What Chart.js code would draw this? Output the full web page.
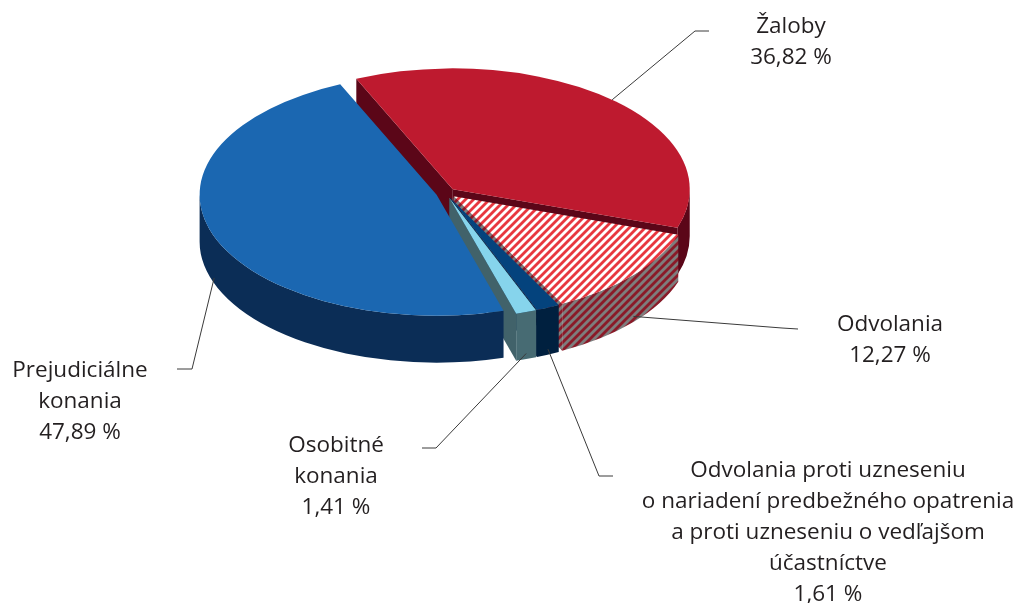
<html>
<head>
    <script src="https://cdn.jsdelivr.net/npm/chart.js"></script>
    <style>
        body { margin: 0; background: #ffffff; }
    </style>
</head>
<body>
    <div style="width: 1016px; height: 603px">
        <canvas id="myChart" width="1016" height="603"></canvas>
    </div>

    <script>
        // data (clockwise from the top-left)
        const categories = [
            'Žaloby',
            'Odvolania',
            'Odvolania proti uzneseniu o nariadení predbežného opatrenia a proti uzneseniu o vedľajšom účastníctve',
            'Osobitné konania',
            'Prejudiciálne konania'
        ];
        const shares = [36.82, 12.27, 1.61, 1.41, 47.89];
        const labelLines = [
            ['Žaloby'],
            ['Odvolania'],
            ['Odvolania proti uzneseniu', 'o nariadení predbežného opatrenia', 'a proti uzneseniu o vedľajšom', 'účastníctve'],
            ['Osobitné', 'konania'],
            ['Prejudiciálne', 'konania']
        ];

        // look of the 3d pie
        const topColors = ['#be1a2f', 'hatch', '#04437d', '#86d4ec', '#1b67b1'];
        const wallColors = ['#5b0618', 'hatchDark', '#00203f', '#476b73', '#0b2d56'];
        const faceColors = ['#5b0618', 'hatchDark', '#00203f', '#41626a', '#0b2d56'];
        const tilt = 0.51, depth = 47, explode = 10;

        // label placement: text centre x, first baseline, leader elbow and end
        const labelPos = [
            { x: 791, y: 33, elbow: [695, 31], end: [709, 31] },
            { x: 890, y: 331, elbow: [782, 328], end: [798, 329] },
            { x: 828, y: 477, elbow: [599, 476], end: [613, 476] },
            { x: 336, y: 452, elbow: [436, 448], end: [422, 448] },
            { x: 80, y: 377, elbow: [192, 369], end: [177, 369] }
        ];

        function hexRgb(h) {
            return [parseInt(h.substr(1, 2), 16), parseInt(h.substr(3, 2), 16), parseInt(h.substr(5, 2), 16)];
        }

        function stripes(ctx, c1, c2) {
            const size = 8;
            const t = document.createElement('canvas');
            t.width = size; t.height = size;
            const g = t.getContext('2d');
            const img = g.createImageData(size, size);
            const a = hexRgb(c1), b = hexRgb(c2);
            for (let y = 0; y < size; y++) {
                for (let x = 0; x < size; x++) {
                    const v = Math.cos(2 * Math.PI * (x + y) / size);
                    const m = Math.min(1, Math.max(0, 0.5 + 0.9 * v));
                    const i = (y * size + x) * 4;
                    for (let k = 0; k < 3; k++) img.data[i + k] = Math.round(a[k] * m + b[k] * (1 - m));
                    img.data[i + 3] = 255;
                }
            }
            g.putImageData(img, 0, 0);
            return ctx.createPattern(t, 'repeat');
        }

        function geo(arc) {
            const mid = (arc.startAngle + arc.endAngle) / 2;
            return {
                x: arc.x + Math.cos(mid) * explode,
                y: arc.y + Math.sin(mid) * explode * tilt,
                r: arc.outerRadius,
                a0: arc.startAngle,
                a1: arc.endAngle,
                mid: mid
            };
        }

        function rim(g, a, dy) {
            return [g.x + g.r * Math.cos(a), g.y + g.r * tilt * Math.sin(a) + dy];
        }

        function topPath(ctx, g) {
            ctx.beginPath();
            ctx.moveTo(g.x, g.y);
            ctx.ellipse(g.x, g.y, g.r, g.r * tilt, 0, g.a0, g.a1);
            ctx.closePath();
        }

        function facePath(ctx, g, a) {
            const p = rim(g, a, 0);
            ctx.beginPath();
            ctx.moveTo(g.x, g.y);
            ctx.lineTo(p[0], p[1]);
            ctx.lineTo(p[0], p[1] + depth);
            ctx.lineTo(g.x, g.y + depth);
            ctx.closePath();
        }

        function wallPath(ctx, g, s, e) {
            ctx.beginPath();
            ctx.ellipse(g.x, g.y, g.r, g.r * tilt, 0, s, e);
            ctx.ellipse(g.x, g.y + depth, g.r, g.r * tilt, 0, e, s, true);
            ctx.closePath();
        }

        const pie3d = {
            id: 'pie3d',
            beforeDatasetsDraw(chart) {
                const ctx = chart.ctx;
                const fills = {
                    hatch: stripes(ctx, '#e8373f', '#ffffff'),
                    hatchDark: stripes(ctx, '#8a1a28', '#7d7d7d')
                };
                const pick = c => fills[c] || c;
                const gs = chart.getDatasetMeta(0).data.map(geo);
                ctx.save();
                // radial cut faces that look toward the viewer
                gs.forEach((g, i) => {
                    ctx.fillStyle = pick(faceColors[i]);
                    if (-Math.cos(g.a0) > 0) { facePath(ctx, g, g.a0); ctx.fill(); }
                    if (Math.cos(g.a1) > 0) { facePath(ctx, g, g.a1); ctx.fill(); }
                });
                // outer walls on the front half
                gs.forEach((g, i) => {
                    ctx.fillStyle = pick(wallColors[i]);
                    [-2, 0, 2].forEach(n => {
                        const s = Math.max(g.a0, n * Math.PI);
                        const e = Math.min(g.a1, (n + 1) * Math.PI);
                        if (e > s) { wallPath(ctx, g, s, e); ctx.fill(); }
                    });
                });
                // top faces
                gs.forEach((g, i) => {
                    ctx.fillStyle = pick(topColors[i]);
                    topPath(ctx, g);
                    ctx.fill();
                });
                ctx.restore();
                return false;
            },
            afterDraw(chart) {
                const ctx = chart.ctx;
                const arcs = chart.getDatasetMeta(0).data;
                ctx.save();
                ctx.strokeStyle = '#3a3a3a';
                ctx.lineWidth = 1;
                ctx.fillStyle = '#231f20';
                ctx.font = '22.5px "Open Sans"';
                ctx.textAlign = 'center';
                ctx.textBaseline = 'alphabetic';
                arcs.forEach((arc, i) => {
                    const g = geo(arc);
                    const a = rim(g, g.mid, Math.sin(g.mid) > 0 ? depth * 0.88 : 0);
                    const p = labelPos[i];
                    ctx.beginPath();
                    ctx.moveTo(a[0], a[1]);
                    ctx.lineTo(p.elbow[0], p.elbow[1]);
                    ctx.lineTo(p.end[0], p.end[1]);
                    ctx.stroke();

                    const lines = labelLines[i].concat([shares[i].toFixed(2).replace('.', ',') + ' %']);
                    lines.forEach((t, k) => ctx.fillText(t, p.x, p.y + k * 31));
                });
                ctx.restore();
            }
        };

        const ctx = document.getElementById('myChart').getContext('2d');
        const myChart = new Chart(ctx, {
            type: 'pie',
            data: {
                labels: categories,
                datasets: [{
                    data: shares,
                    backgroundColor: topColors,
                    borderWidth: 0
                }]
            },
            options: {
                responsive: false,
                maintainAspectRatio: false,
                animation: false,
                devicePixelRatio: 1,
                rotation: -24,
                radius: 237,
                layout: {
                    padding: { left: 0, right: 124, top: 0, bottom: 217 }
                },
                plugins: {
                    legend: { display: false },
                    tooltip: { enabled: false }
                }
            },
            plugins: [pie3d]
        });
    </script>
</body>
</html>
